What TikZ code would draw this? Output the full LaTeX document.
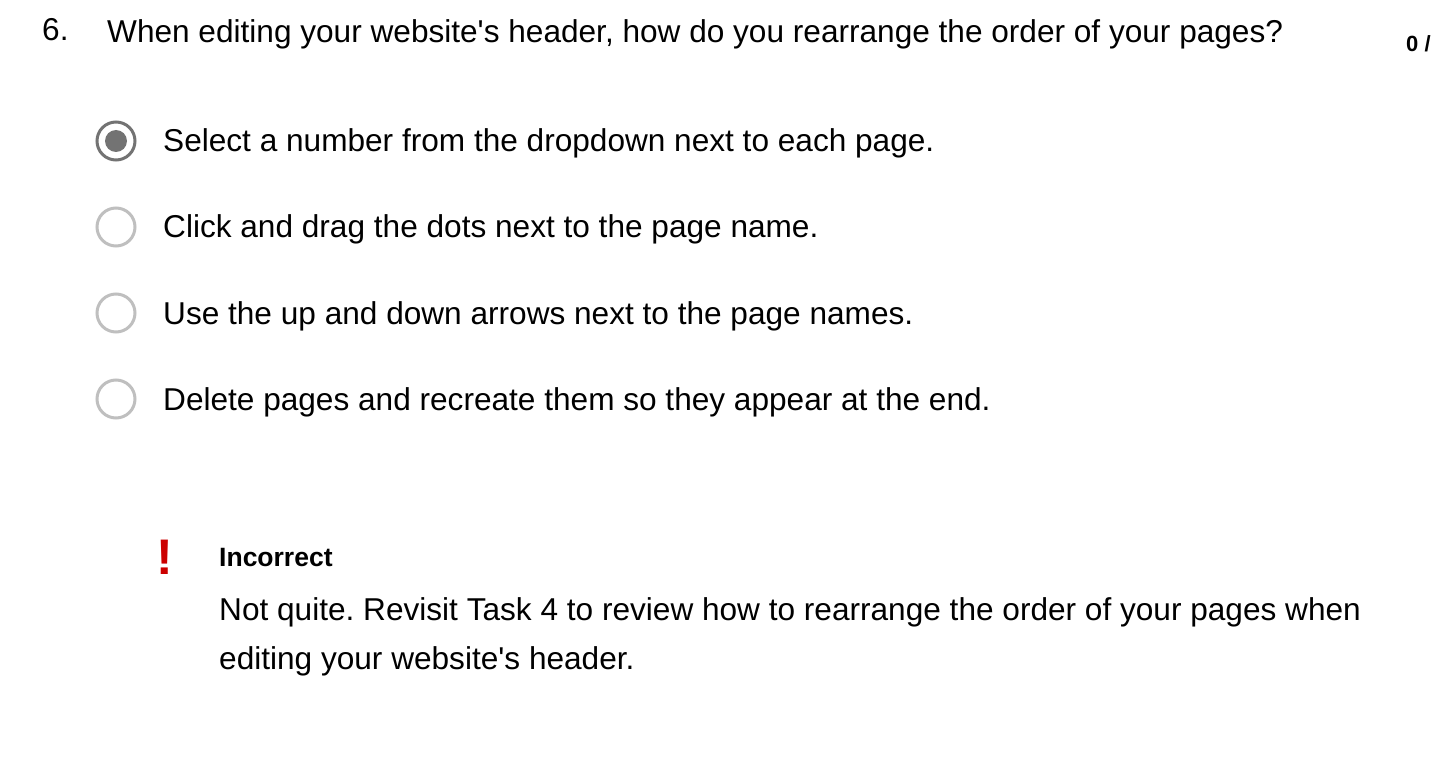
\documentclass[tikz,border=0pt]{standalone}
\usepackage{fontspec}
\setmainfont{Liberation Sans}
\frenchspacing
\newcommand\aps{\textquotesingle}
\begin{document}
\begin{tikzpicture}[x=1pt,y=-1pt,
  txt/.style={anchor=base west,inner sep=0pt,font=\fontsize{31.6}{36}\selectfont},
  radio/.style={circle,draw=black!25,line width=3pt,minimum size=38pt,inner sep=0pt}]
\useasboundingbox (0,0) rectangle (1444,762);
\node[txt] (num) at (42,41) {6.};
\node[txt] (q) at (107,43) {When editing your website\aps s header, how do you rearrange the order of your pages?};
\node[txt,font=\fontsize{22}{26}\selectfont\bfseries] (score) at (1406,52) {0 /};
\node[radio,draw=black!55] (r1) at (116,141) {};
\fill[black!55] (r1) circle (11);
\node[radio] (r2) at (116,227) {};
\node[radio] (r3) at (116,313) {};
\node[radio] (r4) at (116,399) {};
\node[txt] (o1) at (163,152) {Select a number from the dropdown next to each page.};
\node[txt] (o2) at (163,238) {Click and drag the dots next to the page name.};
\node[txt] (o3) at (163,324) {Use the up and down arrows next to the page names.};
\node[txt] (o4) at (163,410) {Delete pages and recreate them so they appear at the end.};
\node[txt,font=\fontsize{50}{54}\selectfont\bfseries,text={rgb,255:red,204;green,0;blue,0}] (ex) at (156,574) {!};
\node[txt,font=\fontsize{26.5}{30}\selectfont\bfseries] (inc) at (219,566) {Incorrect};
\node[txt] (f1) at (219,620) {Not quite.  Revisit Task 4 to review how to rearrange the order of your pages when};
\node[txt] (f2) at (219,669) {editing your website\aps s header.};
\end{tikzpicture}
\end{document}
